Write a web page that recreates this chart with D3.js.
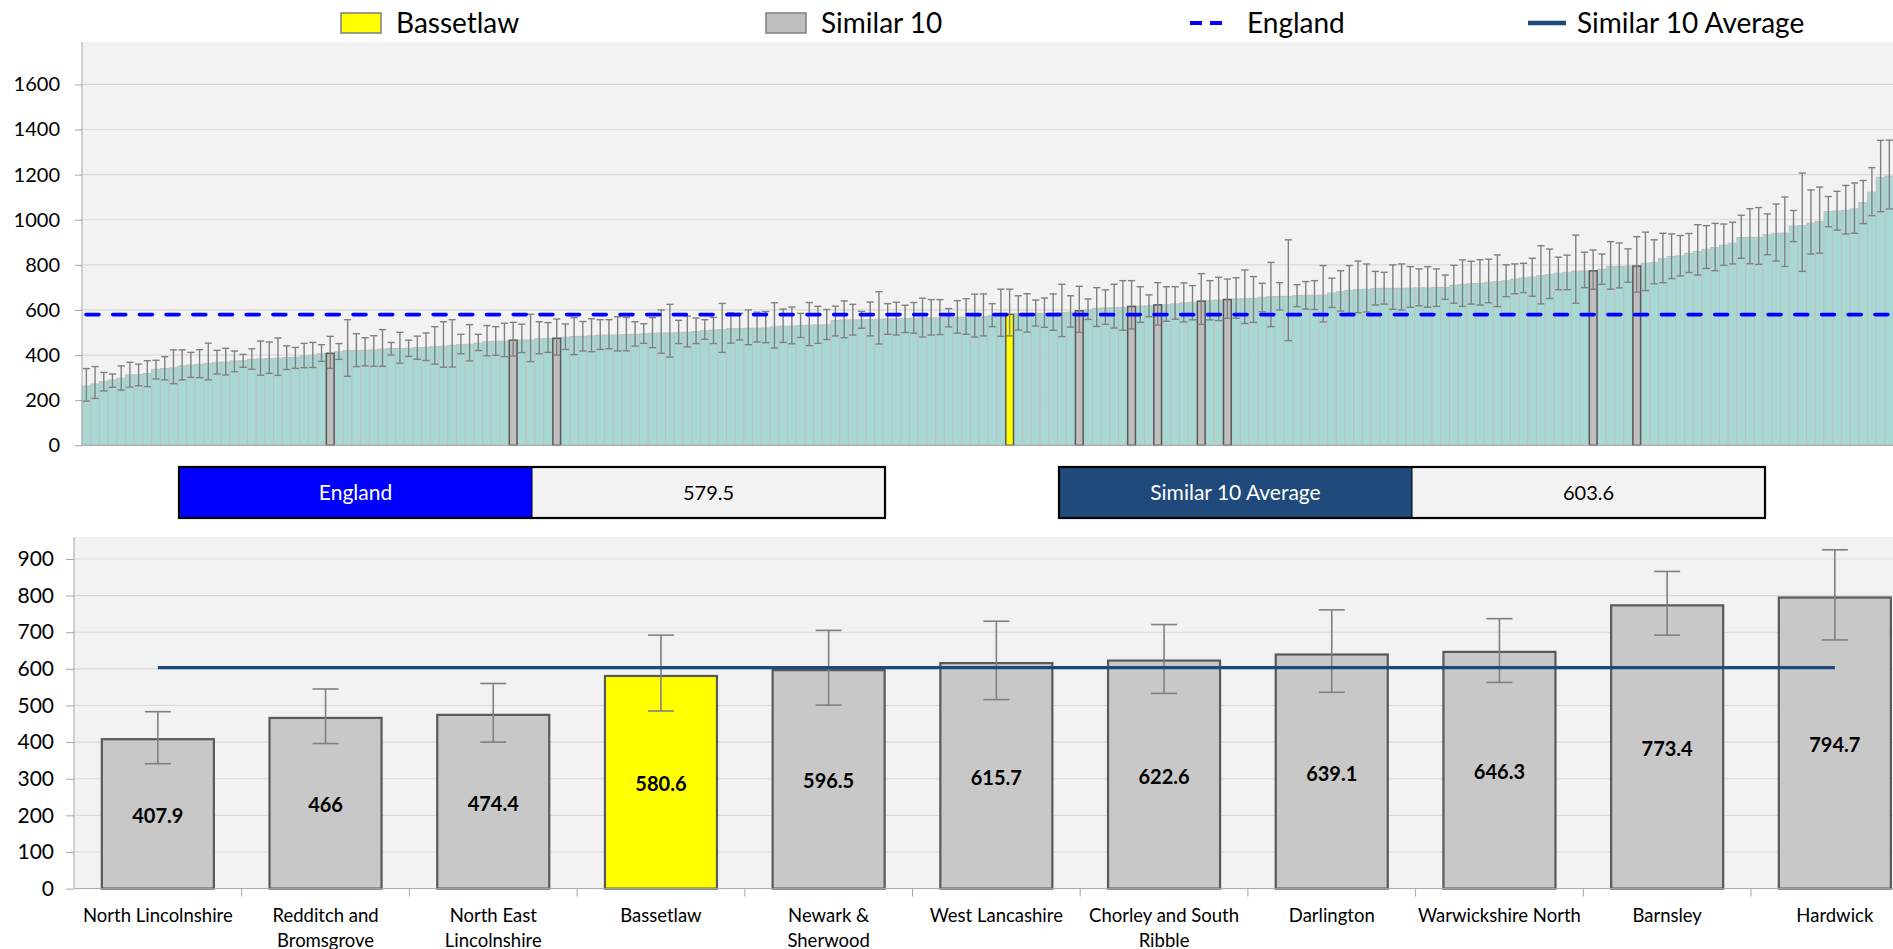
<!DOCTYPE html>
<html><head><meta charset="utf-8">
<script src="https://cdn.jsdelivr.net/npm/d3@7"></script>
<style>body{margin:0;background:#fff;} svg{display:block;font-family:Lato,"Open Sans",sans-serif;}</style>
</head><body><svg id="c" width="1893" height="949"></svg>
<script>
// ---------------- DATA ----------------
const topValues = [263,272,282,290,297,312,313,318,337,340,343,352,356,359,363,368,369,374,375,381,383,384,386,389,390,396,399,406,407.9,414,
420,420,421,423,426,429,429,430,433,434,437,439,443,446,448,453,459,461,462,466,467,467,473,474,474.4,479,482,483,485,488,
489,489,491,492,494,497,498,498,499,501,504,508,511,513,517,517,519,519,520,525,528,528,531,532,534,534,553,556,556,556,
557,559,560,560,562,563,565,565,565,566,568,568,571,571,575,577,580.6,584,585,585,585,587,588,590,596.5,600,607,609,610,612,
615.7,617,618,622.6,623,627,631,634,639.1,641,644,646.3,649,650,651,656,659,660,660,664,665,665,666,675,681,687,690,692,695,696,
696,696,697,698,698,700,700,709,713,717,718,723,726,729,737,742,746,752,757,763,767,772,773,773.4,780,792,793,794,794.7,807,
810,828,837,840,851,859,869,877,887,896,921,922,922,933,940,941,972,974,985,992,1036,1039,1042,1048,1076,1122,1188,1194];
const topLower = [196,208,241,257,245,258,264,260,294,290,273,290,301,300,290,316,312,326,346,337,311,319,310,336,341,344,345,372,341,381,
306,349,352,350,350,400,364,394,381,376,360,346,347,406,374,420,397,399,393,396,411,371,406,412,400,425,402,418,415,425,
428,418,419,440,452,433,408,391,451,436,451,470,451,412,453,467,446,458,455,431,456,450,478,442,452,469,485,477,489,519,
485,449,492,489,500,497,480,489,491,525,497,492,480,485,526,483,485,511,502,529,523,510,482,524,501,558,527,536,520,510,
516,545,570,533,550,559,547,556,536,556,553,563,563,540,545,592,526,600,464,615,604,602,547,611,595,585,588,591,622,626,
603,600,612,619,612,616,647,630,616,626,622,632,615,659,672,677,661,627,651,690,690,630,699,692,714,692,698,723,679,686,
716,721,739,751,766,755,784,774,798,804,829,805,802,845,817,793,903,771,848,852,969,954,937,940,983,1018,1036,1048];
const topUpper = [340,349,323,316,352,368,360,375,377,393,423,423,412,424,453,421,430,418,403,428,462,458,476,441,434,452,456,446,483,451,
557,495,477,486,513,456,501,466,484,498,526,548,557,492,535,492,531,526,541,545,537,581,548,544,560,538,566,549,561,557,
557,570,567,548,539,566,600,625,554,573,564,557,567,629,588,585,600,590,593,632,604,613,585,633,616,602,617,640,625,594,
635,681,628,634,621,633,652,646,646,606,641,650,670,671,628,692,692,663,672,644,653,671,714,663,705,649,699,689,714,730,
730,703,667,721,703,703,720,708,761,730,745,737,743,777,748,718,811,721,911,712,726,730,797,741,774,797,817,804,771,767,
800,804,792,782,792,782,755,798,822,816,823,825,844,800,804,807,829,885,870,834,843,932,856,866,848,903,897,871,925,945,
911,940,937,930,939,978,974,984,981,989,1020,1049,1054,1026,1070,1101,1041,1207,1132,1145,1103,1126,1152,1163,1174,1231,1352,1353];
const similarRanks = [28,49,54,114,120,123,128,131,173,178];
const bassetlawRank = 106;
const topTicks = [0,200,400,600,800,1000,1200,1400,1600];
const englandValue = 579.5;
const similarAverage = 603.6;

const categories = ["North Lincolnshire","Redditch and Bromsgrove","North East Lincolnshire","Bassetlaw","Newark & Sherwood",
  "West Lancashire","Chorley and South Ribble","Darlington","Warwickshire North","Barnsley","Hardwick"];
const categoryLines = [["North Lincolnshire"],["Redditch and","Bromsgrove"],["North East","Lincolnshire"],["Bassetlaw"],["Newark &","Sherwood"],
  ["West Lancashire"],["Chorley and South","Ribble"],["Darlington"],["Warwickshire North"],["Barnsley"],["Hardwick"]];
const catValues = [407.9,466,474.4,580.6,596.5,615.7,622.6,639.1,646.3,773.4,794.7];
const catLower = [341,396,400,485,501,516,533,536,563,692,679];
const catUpper = [483,545,560,692,705,730,721,761,737,866,925];
const bottomTicks = [0,100,200,300,400,500,600,700,800,900];
const legendLabels = ["Bassetlaw","Similar 10","England","Similar 10 Average"];
const boxLabels = ["England","Similar 10 Average"];

// ---------------- STYLE ----------------
const C = {teal:"#a8d8d4", tealEdge:"#bfbfbf", grey:"#bfbfbf", greyB:"#c8c8c8", dark:"#595959", yellow:"#ffff00",
  err:"#808080", bg:"#f2f2f2", grid:"#d9d9d9", blue:"#0000ff", navy:"#1f497d", axis:"#a6a6a6"};
const svg = d3.select("#c");

// ---------------- TOP CHART ----------------
const tX = d3.scaleBand().domain(d3.range(topValues.length)).range([82, 82 + topValues.length * 8.71]).padding(0);
const tY = d3.scaleLinear().domain([0, 1788]).range([445.3, 42]);
const topG = svg.append("g");
topG.append("rect").attr("x",82).attr("y",42).attr("width",1893-82).attr("height",445.3-42).attr("fill",C.bg);
topG.append("g").selectAll("line").data(topTicks.filter(d=>d>0)).join("line")
  .attr("x1",82).attr("x2",1893).attr("y1",d=>tY(d)).attr("y2",d=>tY(d)).attr("stroke",C.grid).attr("stroke-width",1.2);
const typeOf = i => i===bassetlawRank ? "b" : (similarRanks.includes(i) ? "s" : "o");
const idx = d3.range(topValues.length);
topG.append("g").selectAll("rect").data(idx.filter(i=>typeOf(i)==="o")).join("rect")
  .attr("x",i=>tX(i)).attr("y",i=>tY(topValues[i])).attr("width",tX.bandwidth()).attr("height",i=>tY(0)-tY(topValues[i]))
  .attr("fill",C.teal).attr("stroke",C.tealEdge).attr("stroke-width",1);
topG.append("g").selectAll("rect").data(idx.filter(i=>typeOf(i)!=="o")).join("rect")
  .attr("x",i=>tX(i)+0.5).attr("y",i=>tY(topValues[i])).attr("width",tX.bandwidth()-1).attr("height",i=>tY(0)-tY(topValues[i]))
  .attr("fill",i=>typeOf(i)==="b"?C.yellow:C.grey).attr("stroke",C.dark).attr("stroke-width",1.5);
const eb = topG.append("g").attr("stroke",C.err).attr("stroke-width",1.4);
idx.forEach(i=>{
  const cx = tX(i)+tX.bandwidth()/2;
  eb.append("line").attr("x1",cx).attr("x2",cx).attr("y1",tY(topUpper[i])).attr("y2",tY(topLower[i]));
  [topUpper[i],topLower[i]].forEach(v=>eb.append("line").attr("x1",cx-3.6).attr("x2",cx+3.6).attr("y1",tY(v)).attr("y2",tY(v)));
});
topG.append("line").attr("x1",86).attr("x2",1893).attr("y1",tY(englandValue)).attr("y2",tY(englandValue))
  .attr("stroke",C.blue).attr("stroke-width",3.6).attr("stroke-dasharray","13,13.7").attr("stroke-linecap","round");
const tAxis = topG.append("g").attr("transform","translate(82,0)").call(d3.axisLeft(tY).tickValues(topTicks).tickSize(7).tickFormat(d3.format("d")));
tAxis.select(".domain").attr("stroke",C.axis).attr("d","M0,42V445.3");
tAxis.selectAll(".tick line").attr("stroke",C.axis);
tAxis.selectAll("text").attr("font-size",20).attr("fill","#000").attr("x",-22).attr("font-family","Lato");
topG.append("line").attr("x1",82).attr("x2",1893).attr("y1",tY(0)).attr("y2",tY(0)).attr("stroke",C.axis);

// ---------------- LEGEND ----------------
const lg = svg.append("g").attr("font-size",28);
lg.append("rect").attr("x",341).attr("y",13).attr("width",40).attr("height",20).attr("fill",C.yellow).attr("stroke","#7f7f7f").attr("stroke-width",1.5);
lg.append("text").attr("x",396).attr("y",23).attr("dy","0.35em").text(legendLabels[0]);
lg.append("rect").attr("x",766).attr("y",13).attr("width",40).attr("height",20).attr("fill",C.grey).attr("stroke","#7f7f7f").attr("stroke-width",1.5);
lg.append("text").attr("x",821).attr("y",23).attr("dy","0.35em").text(legendLabels[1]);
lg.append("line").attr("x1",1190).attr("x2",1229).attr("y1",23).attr("y2",23).attr("stroke",C.blue).attr("stroke-width",4).attr("stroke-dasharray","12,8");
lg.append("text").attr("x",1247).attr("y",23).attr("dy","0.35em").text(legendLabels[2]);
lg.append("line").attr("x1",1528).attr("x2",1566).attr("y1",23).attr("y2",23).attr("stroke",C.navy).attr("stroke-width",4.5);
lg.append("text").attr("x",1577).attr("y",23).attr("dy","0.35em").text(legendLabels[3]);

// ---------------- INFO BOXES ----------------
const boxes = [{x:179, label:boxLabels[0], val:englandValue, col:C.blue},{x:1059, label:boxLabels[1], val:similarAverage, col:"#1f4a7b"}];
boxes.forEach(b=>{
  const g = svg.append("g");
  g.append("rect").attr("x",b.x).attr("y",467).attr("width",353).attr("height",51).attr("fill",b.col);
  g.append("rect").attr("x",b.x+353).attr("y",467).attr("width",353).attr("height",51).attr("fill",C.bg);
  g.append("rect").attr("x",b.x).attr("y",467).attr("width",706).attr("height",51).attr("fill","none").attr("stroke","#000").attr("stroke-width",2.2);
  g.append("line").attr("x1",b.x+353).attr("x2",b.x+353).attr("y1",467).attr("y2",518).attr("stroke","#000").attr("stroke-width",1);
  g.append("text").attr("x",b.x+176.5).attr("y",492.5).attr("dy","0.35em").attr("text-anchor","middle").attr("font-size",21).attr("fill","#fff").text(b.label);
  g.append("text").attr("x",b.x+529.5).attr("y",492.5).attr("dy","0.35em").attr("text-anchor","middle").attr("font-size",20).attr("fill","#000").text(b.val);
});

// ---------------- BOTTOM CHART ----------------
const bX = d3.scaleBand().domain(categories).range([74, 74 + categories.length*167.7]).paddingInner(0.332).paddingOuter(0.166);
const bY = d3.scaleLinear().domain([0, 960]).range([888.6, 537]);
const bot = svg.append("g");
bot.append("rect").attr("x",74).attr("y",537).attr("width",1893-74).attr("height",888.6-537).attr("fill",C.bg);
bot.append("g").selectAll("line").data(bottomTicks.filter(d=>d>0)).join("line")
  .attr("x1",74).attr("x2",1893).attr("y1",d=>bY(d)).attr("y2",d=>bY(d)).attr("stroke",C.grid).attr("stroke-width",1.2);
bot.append("g").selectAll("rect").data(categories).join("rect")
  .attr("x",d=>bX(d)).attr("y",(d,i)=>bY(catValues[i])).attr("width",bX.bandwidth()).attr("height",(d,i)=>bY(0)-bY(catValues[i]))
  .attr("fill",d=>d==="Bassetlaw"?C.yellow:C.greyB).attr("stroke",C.dark).attr("stroke-width",2.2);
bot.append("g").selectAll("text").data(categories).join("text")
  .attr("x",d=>bX(d)+bX.bandwidth()/2).attr("y",(d,i)=>bY(catValues[i]/2)+2).attr("dy","0.35em").attr("text-anchor","middle")
  .attr("font-size",20).attr("font-weight","bold").text((d,i)=>catValues[i]);
const beb = bot.append("g").attr("stroke",C.err).attr("stroke-width",1.6);
categories.forEach((c,i)=>{
  const cx = bX(c)+bX.bandwidth()/2;
  beb.append("line").attr("x1",cx).attr("x2",cx).attr("y1",bY(catUpper[i])).attr("y2",bY(catLower[i]));
  [catUpper[i],catLower[i]].forEach(v=>beb.append("line").attr("x1",cx-13).attr("x2",cx+13).attr("y1",bY(v)).attr("y2",bY(v)));
});
const c0 = bX(categories[0])+bX.bandwidth()/2, c1 = bX(categories[categories.length-1])+bX.bandwidth()/2;
bot.append("line").attr("x1",c0).attr("x2",c1).attr("y1",bY(similarAverage)).attr("y2",bY(similarAverage)).attr("stroke",C.navy).attr("stroke-width",3.2);
const bAxis = bot.append("g").attr("transform","translate(74,0)").call(d3.axisLeft(bY).tickValues(bottomTicks).tickSize(8).tickFormat(d3.format("d")));
bAxis.select(".domain").attr("stroke",C.axis).attr("d","M0,537V888.6");
bAxis.selectAll(".tick line").attr("stroke",C.axis);
bAxis.selectAll("text").attr("font-size",21).attr("fill","#000").attr("x",-20).attr("font-family","Lato");
bot.append("line").attr("x1",74).attr("x2",1893).attr("y1",bY(0)).attr("y2",bY(0)).attr("stroke",C.axis);
bot.append("g").selectAll("line").data(d3.range(1,categories.length+1)).join("line")
  .attr("x1",i=>74+i*bX.step()).attr("x2",i=>74+i*bX.step()).attr("y1",bY(0)).attr("y2",bY(0)+8).attr("stroke",C.axis);
const cl = bot.append("g").attr("font-size",18.5).attr("text-anchor","middle");
categories.forEach((c,i)=>{
  const t = cl.append("text").attr("x",bX(c)+bX.bandwidth()/2).attr("y",922);
  categoryLines[i].forEach((ln,j)=>t.append("tspan").attr("x",bX(c)+bX.bandwidth()/2).attr("dy",j?24.5:0).text(ln));
});
</script></body></html>
